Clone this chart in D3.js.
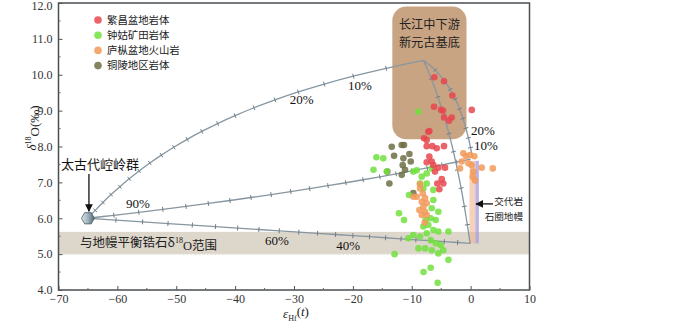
<!DOCTYPE html>
<html><head><meta charset="utf-8">
<script src="https://cdn.jsdelivr.net/npm/d3@7"></script>
<style>
html,body{margin:0;padding:0;background:#fff;}
svg{display:block;}
text{font-family:"Liberation Serif","Times New Roman",serif;}
.cjk{font-family:"Noto Sans CJK SC","Noto Sans CJK JP",sans-serif;}
</style></head>
<body><svg id="chart" width="700" height="322"></svg>
<script>
// ---------------- data ----------------
const xTicks = [-70,-60,-50,-40,-30,-20,-10,0,10];
const yTicks = [4.0,5.0,6.0,7.0,8.0,9.0,10.0,11.0,12.0];
const seriesNames = ["繁昌盆地岩体","钟姑矿田岩体","庐枞盆地火山岩","铜陵地区岩体"];
const seriesColors = ["#e8474f","#72e03e","#f29a5a","#6f6f45"];

const fanchang = [[-6.16,9.93],[-4.52,9.82],[-3.11,9.42],[0.19,9.02],[-6.22,9.11],[-5.03,9.02],[-4.7,9.0],
 [-4.52,8.81],[-3.21,8.81],[-3.67,8.72],[-7.18,8.41],[-7.0,8.43],[-7.91,8.23],[-7.46,8.18],[-7.46,8.01],
 [-6.51,8.01],[-5.76,7.95],[-4.52,8.01],[-7.01,7.72],[-6.61,7.58],[-6.33,7.48],[-5.48,7.41],[-4.35,7.41],
 [-6.05,7.30],[-4.91,7.09],[-5.66,6.97],[-4.64,6.97],[-5.31,6.81],[-7.46,7.56]];
const zhonggu = [[-8.86,8.97],[-14.83,7.67],[-14.25,7.30],[-16.0,7.7],[-16.5,7.35],[-9.73,7.30],[-9.15,7.34],
 [-8.30,7.16],[-7.46,7.25],[-6.61,7.39],[-8.59,6.97],[-7.46,6.97],[-6.33,6.79],[-8.03,6.83],[-10.47,6.65],
 [-6.33,6.51],[-6.61,6.28],[-5.48,6.18],[-12.17,6.14],[-11.31,5.95],[-7.63,5.95],[-6.78,6.00],[-5.93,5.95],
 [-8.03,5.77],[-7.18,5.81],[-6.33,5.67],[-7.46,5.58],[-5.48,5.63],[-8.59,5.49],[-9.73,5.53],[-10.58,5.44],
 [-3.77,5.63],[-6.78,5.39],[-5.93,5.30],[-5.08,5.25],[-8.86,5.16],[-7.74,5.16],[-6.61,5.11],[-4.64,5.11],
 [-12.91,5.00],[-5.48,5.02],[-3.77,4.84],[-6.78,4.62],[-8.0,4.5],[-5.6,4.2]];
const luzong = [[-1.24,7.81],[-0.78,7.73],[-0.10,7.76],[0.63,7.73],[-1.80,7.39],[-0.39,7.53],[0.19,7.48],
 [0.46,7.30],[0.36,7.16],[0.75,7.05],[1.89,7.41],[3.76,7.39],[-1.51,7.58],
 [-8.59,6.83],[-8.13,6.69],[-9.15,6.60],[-7.74,6.56],[-8.30,6.46],[-7.46,6.42],[-8.03,6.32],[-8.71,6.23],
 [-7.74,6.18],[-8.30,6.09],[-7.46,6.09],[-9.73,6.60],[-7.8,5.88],[-8.6,6.95]];
const tongling = [[-13.40,7.99],[-11.70,8.04],[-11.31,8.04],[-13.00,7.74],[-11.42,7.67],[-10.40,7.79],
 [-11.53,7.48],[-10.17,7.58],[-14.15,7.30],[-11.14,7.35],[-11.70,7.21],[-13.80,6.97],[-9.73,6.70]];

// mixing-model lines (points at 5% steps, read/estimated from the figure)
const curveTop = [[-65,6.0],[-63.77,6.22],[-62.46,6.44],[-61.07,6.66],[-59.58,6.88],[-58.0,7.10],[-56.31,7.32],
 [-54.49,7.54],[-52.53,7.76],[-50.42,7.98],[-48.14,8.20],[-45.67,8.42],[-42.97,8.64],[-40.02,8.86],[-36.79,9.08],
 [-33.22,9.30],[-29.27,9.52],[-24.87,9.74],[-19.92,9.96],[-14.35,10.18],[-8.0,10.4]];
const curveMid = [[-65,6.0],[-60.6,6.083],[-56.37,6.165],[-52.29,6.248],[-48.35,6.33],[-44.55,6.413],[-40.88,6.495],
 [-37.32,6.578],[-33.89,6.66],[-30.56,6.743],[-27.35,6.825],[-24.23,6.908],[-21.2,6.99],[-18.27,7.073],[-15.43,7.155],
 [-12.67,7.238],[-9.99,7.32],[-7.38,7.403],[-4.85,7.485],[-2.39,7.568],[0,7.65]];
const curveLow = [[-65,6.0],[-60.24,5.949],[-55.71,5.90],[-51.4,5.853],[-47.27,5.809],[-43.33,5.767],[-39.57,5.726],
 [-35.96,5.687],[-32.5,5.65],[-29.18,5.614],[-26.0,5.58],[-22.94,5.547],[-20.0,5.515],[-17.17,5.485],[-14.44,5.456],
 [-11.82,5.427],[-9.29,5.40],[-6.84,5.374],[-4.48,5.348],[-2.2,5.324],[0,5.3]];
const curveDown1 = [[-8.0,10.4],[-7.32,10.145],[-6.68,9.89],[-6.10,9.64],[-5.55,9.38],[-5.04,9.13],[-4.56,8.87],
 [-4.11,8.62],[-3.69,8.36],[-3.29,8.11],[-2.92,7.855],[-2.57,7.60],[-2.24,7.35],[-1.92,7.09],[-1.62,6.84],
 [-1.33,6.58],[-1.06,6.33],[-0.81,6.07],[-0.56,5.82],[-0.32,5.56],[-0.1,5.31]];
const curveDown2 = [[-8.0,10.4],[-6.93,10.265],[-6.03,10.13],[-5.26,9.995],[-4.58,9.86],[-3.99,9.725],[-3.47,9.59],
 [-3.01,9.455],[-2.6,9.32],[-2.22,9.185],[-1.88,9.05],[-1.58,8.915],[-1.30,8.78],[-1.04,8.645],[-0.80,8.51],
 [-0.58,8.375],[-0.38,8.24],[-0.19,8.105],[-0.02,7.97],[0.15,7.835],[0.3,7.7]];
const mixLabels = [["20%",-28.7,9.3],["10%",-18.8,9.71],["90%",-56.5,6.42],["60%",-32.9,5.39],["40%",-20.8,5.25],["20%",2.1,8.45],["10%",2.6,8.04]];

const mantleZircon = [5.0,5.62];         // δ18O range
const basement = {x:[-13.3,-0.7], y:[8.2,11.9]};
const metaMantle = {orange:[-0.2,0.8], purple:[0.8,1.4], y:[5.3,7.6]};
const kongling = [-65,6.0];

// ---------------- drawing ----------------
const svg = d3.select("#chart");
const x = d3.scaleLinear().domain([-70,10]).range([58.5,529.5]);
const y = d3.scaleLinear().domain([4,12]).range([290,3]);

// mantle zircon band
svg.append("rect").attr("x",x(-70)).attr("width",x(10)-x(-70))
  .attr("y",y(mantleZircon[1])).attr("height",y(mantleZircon[0])-y(mantleZircon[1]))
  .attr("fill","#ddd6cb");
svg.append("line").attr("x1",x(-70)).attr("x2",x(10)).attr("y1",y(mantleZircon[0])).attr("y2",y(mantleZircon[0]))
  .attr("stroke","#e8e3da").attr("stroke-width",1.5).attr("stroke-dasharray","2,2");

// basement box
svg.append("rect").attr("x",x(basement.x[0])).attr("y",y(basement.y[1]))
  .attr("width",x(basement.x[1])-x(basement.x[0])).attr("height",y(basement.y[0])-y(basement.y[1]))
  .attr("rx",14).attr("fill","#c9a483");
const bx = x((basement.x[0]+basement.x[1])/2);
const bt = svg.append("text").attr("class","cjk").attr("y",y(11.27)).attr("text-anchor","middle")
  .attr("font-size",12.2).attr("fill","#222");
bt.append("tspan").attr("x",bx).text("长江中下游");
bt.append("tspan").attr("x",bx).attr("dy",18).text("新元古基底");

// metasomatized mantle bars
svg.append("rect").attr("x",x(metaMantle.orange[0])).attr("width",x(metaMantle.orange[1])-x(metaMantle.orange[0]))
  .attr("y",y(metaMantle.y[1])).attr("height",y(metaMantle.y[0])-y(metaMantle.y[1]))
  .attr("fill","#f2b48e").attr("opacity",0.6);
svg.append("rect").attr("x",x(metaMantle.purple[0])).attr("width",x(metaMantle.purple[1])-x(metaMantle.purple[0]))
  .attr("y",y(metaMantle.y[1])).attr("height",y(metaMantle.y[0])-y(metaMantle.y[1]))
  .attr("fill","#a9a0dd").attr("opacity",0.8);

// mixing curves
const line = d3.line().x(d=>x(d[0])).y(d=>y(d[1])).curve(d3.curveCatmullRom.alpha(0.5));
const gCurves = svg.append("g");
function tickAt(px,py,dx,dy){
  const m=Math.hypot(dx,dy)||1, nx=-dy/m, ny=dx/m;
  gCurves.append("line").attr("x1",px-nx*2.5).attr("y1",py-ny*2.5).attr("x2",px+nx*2.5).attr("y2",py+ny*2.5)
    .attr("stroke","#6f7f8a").attr("stroke-width",1);
}
[[curveTop,1],[curveMid,1],[curveLow,1],[curveDown1,2],[curveDown2,2]].forEach(([c,step])=>{
  gCurves.append("path").datum(c).attr("d",line).attr("fill","none")
    .attr("stroke","#8796a0").attr("stroke-width",1.3);
  for(let i=step;i<c.length-1;i+=step){
    const p0=c[i-1], p1=c[i+1];
    tickAt(x(c[i][0]),y(c[i][1]),x(p1[0])-x(p0[0]),y(p1[1])-y(p0[1]));
  }
});
mixLabels.forEach(d=>{
  svg.append("text").attr("x",x(d[1])).attr("y",y(d[2])).attr("dy","0.35em").attr("text-anchor","middle")
    .attr("font-size",13).attr("fill","#111").text(d[0]);
});

// scatter points
const groups = [fanchang,zhonggu,luzong,tongling];
const drawOrder = [3,1,2,0];
drawOrder.forEach(i=>{
  svg.append("g").selectAll("circle").data(groups[i]).join("circle")
    .attr("cx",d=>x(d[0])).attr("cy",d=>y(d[1])).attr("r",3.3)
    .attr("fill",seriesColors[i]).attr("fill-opacity",0.85);
});

// hexagon Kongling
const defs = svg.append("defs");
const gr = defs.append("linearGradient").attr("id","hexg").attr("x1","0").attr("x2","1").attr("y1","0").attr("y2","0");
gr.append("stop").attr("offset","0").attr("stop-color","#dfe8ee");
gr.append("stop").attr("offset","0.5").attr("stop-color","#9fb2bd");
gr.append("stop").attr("offset","1").attr("stop-color","#55676f");
const hx = x(kongling[0]), hy = y(kongling[1]), hr = 6.5;
const hexPts = d3.range(6).map(k=>{const a=Math.PI/3*k; return [hx+hr*Math.cos(a), hy+hr*Math.sin(a)];});
svg.append("polygon").attr("points",hexPts.map(p=>p.join(",")).join(" "))
  .attr("fill","url(#hexg)").attr("stroke","#4b5a62").attr("stroke-width",0.8);
// arrow from label
defs.append("marker").attr("id","ah").attr("viewBox","0 0 10 10").attr("refX",9).attr("refY",5)
  .attr("markerWidth",6).attr("markerHeight",6).attr("orient","auto")
  .append("path").attr("d","M0,0 L10,5 L0,10 z").attr("fill","#111");
svg.append("text").attr("class","cjk").attr("x",100).attr("y",169).attr("text-anchor","middle")
  .attr("font-size",13).attr("fill","#111").text("太古代崆岭群");
svg.append("line").attr("x1",hx+1).attr("y1",174).attr("x2",hx+1).attr("y2",hy-7)
  .attr("stroke","#111").attr("stroke-width",1.3).attr("marker-end","url(#ah)");

// band label
const bl = svg.append("text").attr("x",80).attr("y",y(5.31)).attr("dy","0.35em").attr("font-size",12.5).attr("fill","#222");
bl.append("tspan").attr("class","cjk").text("与地幔平衡锆石δ");
bl.append("tspan").attr("font-size",8).attr("dy","-0.6em").text("18");
bl.append("tspan").attr("dy","0.6em").text("O");
bl.append("tspan").attr("class","cjk").text("范围");

// meta mantle label
svg.append("line").attr("x1",493).attr("y1",y(6.4)).attr("x2",476).attr("y2",y(6.4))
  .attr("stroke","#111").attr("stroke-width",1.3).attr("marker-end","url(#ah)");
const mt = svg.append("text").attr("class","cjk").attr("y",y(6.45)).attr("dy","0.35em").attr("text-anchor","end")
  .attr("font-size",9.6).attr("fill","#222");
mt.append("tspan").attr("x",523).text("交代岩");
mt.append("tspan").attr("x",523).attr("dy",14.2).text("石圈地幔");

// legend
seriesNames.forEach((nm,i)=>{
  const ly = 20 + i*15.2;
  svg.append("circle").attr("cx",98).attr("cy",ly).attr("r",3.8).attr("fill",seriesColors[i]).attr("fill-opacity",0.85);
  svg.append("text").attr("class","cjk").attr("x",107).attr("y",ly).attr("dy","0.35em")
    .attr("font-size",10.4).attr("fill","#222").text(nm);
});

// frame and axes
svg.append("rect").attr("x",x(-70)).attr("y",y(12)).attr("width",x(10)-x(-70)).attr("height",y(4)-y(12))
  .attr("fill","none").attr("stroke","#4a4f52").attr("stroke-width",1.5);
const gx = svg.append("g").attr("transform",`translate(0,${y(4)})`)
  .call(d3.axisBottom(x).tickValues(xTicks).tickSize(-4).tickPadding(4).tickFormat(d3.format("d")));
const gy = svg.append("g").attr("transform",`translate(${x(-70)},0)`)
  .call(d3.axisLeft(y).tickValues(yTicks).tickSize(-4).tickPadding(6).tickFormat(d3.format(".1f")));
[gx,gy].forEach(g=>{
  g.select(".domain").remove();
  g.selectAll("line").attr("stroke","#555");
  g.selectAll("text").attr("font-family","Liberation Serif").attr("font-size",12).attr("fill","#333");
});
gy.selectAll(".tick").filter(d=>d===12).select("text").attr("dy","0.5em");
// minor ticks
d3.range(-65,10,10).forEach(v=>svg.append("line").attr("x1",x(v)).attr("x2",x(v)).attr("y1",y(4)).attr("y2",y(4)-2).attr("stroke","#666"));
d3.range(4.5,12,1).forEach(v=>svg.append("line").attr("x1",x(-70)).attr("x2",x(-70)+2).attr("y1",y(v)).attr("y2",y(v)).attr("stroke","#666"));

// axis titles
const xt = svg.append("text").attr("x",296).attr("y",318).attr("text-anchor","middle").attr("font-size",13).attr("fill","#222");
xt.append("tspan").attr("font-style","italic").text("ε");
xt.append("tspan").attr("font-size",8).attr("dy","0.35em").text("Hf");
xt.append("tspan").attr("dy","-0.35em").text("(");
xt.append("tspan").attr("font-style","italic").text("t");
xt.append("tspan").text(")");
const yt = svg.append("text").attr("transform","translate(36,128) rotate(-90)").attr("text-anchor","middle").attr("font-size",13).attr("fill","#222");
yt.append("tspan").attr("font-style","italic").text("δ");
yt.append("tspan").attr("font-size",8).attr("dy","-0.6em").text("18");
yt.append("tspan").attr("dy","0.6em").text("O(‰)");
</script></body></html>
